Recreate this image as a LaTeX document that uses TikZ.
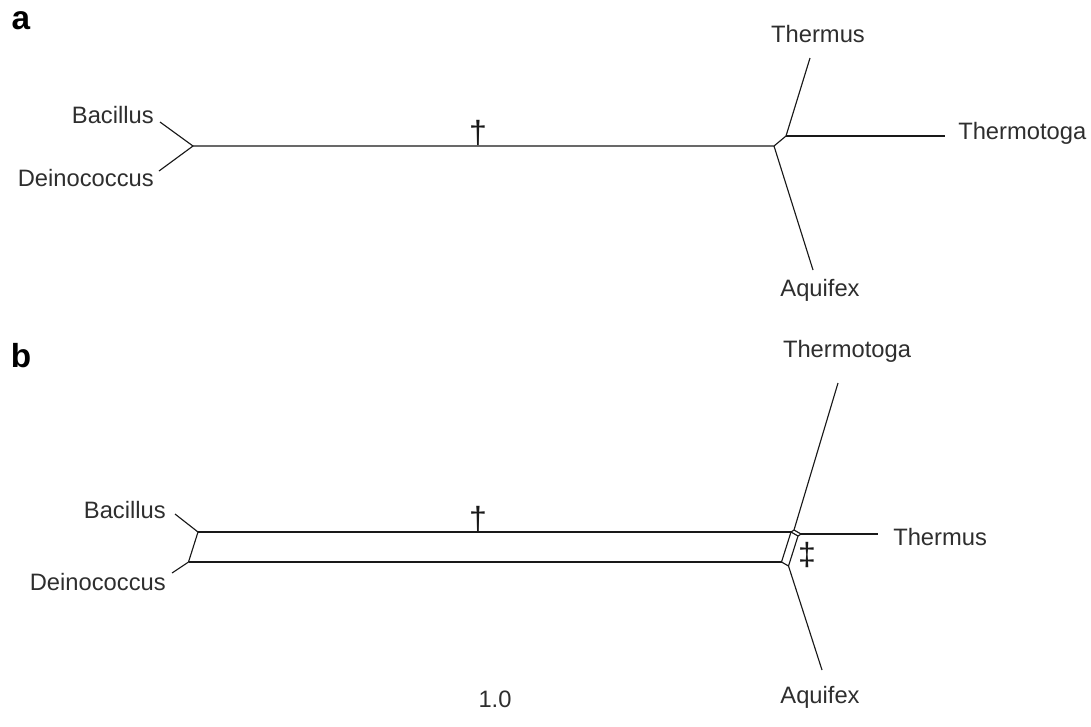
\documentclass[tikz,border=0pt]{standalone}
\usepackage{fontspec}
\setmainfont{Liberation Sans}
\begin{document}
\begin{tikzpicture}[x=0.75pt,y=-0.75pt,
  br/.style={line width=0.85pt, draw=black!90, line join=round},
  lab/.style={font=\fontsize{17.8}{21}\selectfont, text=black!82, inner sep=0pt},
  panel/.style={font=\fontsize{25}{30}\selectfont\bfseries, text=black, inner sep=0pt},
  dag/.style={font=\fontsize{24}{28}\selectfont, text=black!90, inner sep=0pt}]
\useasboundingbox (0,0) rectangle (1091,726);
\node[panel] (pa) at (21,21) {a};
\node[panel] (pb) at (21,356) {b};

% ---------- panel a ----------
\coordinate (a1) at (193,146);
\coordinate (a2) at (774,146);
\coordinate (a3) at (786,136);
\coordinate (aBac) at (160,122);
\coordinate (aDei) at (159,171);
\coordinate (aThs) at (810,58);
\coordinate (aTtg) at (945,136);
\coordinate (aAqu) at (813,270);
\draw[br] (aBac) -- (a1) -- (aDei);
\draw[br] (a1) -- (a2) -- (a3) -- (aThs);
\draw[br] (a3) -- (aTtg);
\draw[br] (a2) -- (aAqu);
\node[dag, anchor=south] (da) at (478,146) {†};

\node[lab, anchor=east] (laBac) at (154,115) {Bacillus};
\node[lab, anchor=east] (laDei) at (154,178) {Deinococcus};
\node[lab] (laThs) at (818,34) {Thermus};
\node[lab, anchor=west] (laTtg) at (958,133) {Thermotoga};
\node[lab] (laAqu) at (820,290) {Aquifex};

% ---------- panel b ----------
\coordinate (b1) at (198,532);
\coordinate (b2) at (188.5,562);
\coordinate (n1) at (791,532);
\coordinate (n2) at (794,530);
\coordinate (n3) at (801,534);
\coordinate (n4) at (798,536);
\coordinate (n5) at (781.5,562);
\coordinate (n6) at (788.5,566);
\coordinate (bBac) at (175,514);
\coordinate (bDei) at (172,573);
\coordinate (bTtg) at (838,383);
\coordinate (bThs) at (878,534);
\coordinate (bAqu) at (822,670);
\draw[br] (bBac) -- (b1) -- (b2) -- (bDei);
\draw[br] (b1) -- (n1);
\draw[br] (b2) -- (n5);
\draw[br] (n1) -- (n2) -- (n3) -- (n4) -- cycle;
\draw[br] (n1) -- (n5) -- (n6) -- (n4);
\draw[br] (n2) -- (bTtg);
\draw[br] (n3) -- (bThs);
\draw[br] (n6) -- (bAqu);
\node[dag, anchor=south] (db) at (478,532) {†};
\node[dag] (ddb) at (807,555) {‡};

\node[lab, anchor=east] (lbBac) at (166,510) {Bacillus};
\node[lab, anchor=east] (lbDei) at (166,582) {Deinococcus};
\node[lab] (lbTtg) at (847,351) {Thermotoga};
\node[lab, anchor=west] (lbThs) at (893,537) {Thermus};
\node[lab] (lbAqu) at (820,697) {Aquifex};
\node[lab] (scale) at (495,699) {1.0};
\end{tikzpicture}
\end{document}
